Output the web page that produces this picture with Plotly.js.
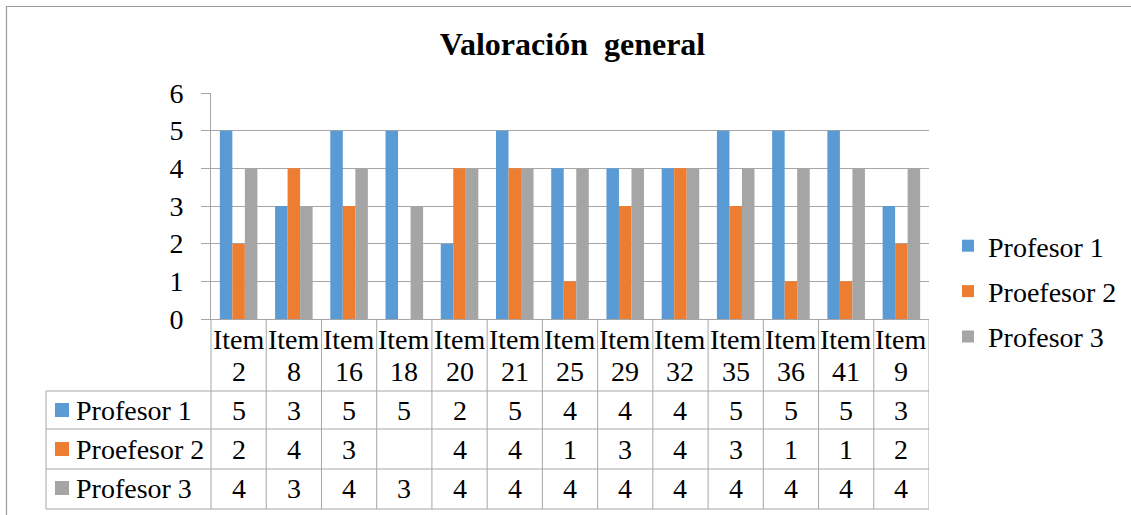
<!DOCTYPE html>
<html><head><meta charset="utf-8">
<script src="https://cdn.plot.ly/plotly-3.0.1.min.js"></script>
<style>html,body{margin:0;padding:0;background:#fff}#chart{width:1131px;height:515px}</style>
</head><body>
<div id="chart"></div>
<script>
const categories = ['Item 2','Item 8','Item 16','Item 18','Item 20','Item 21','Item 25','Item 29','Item 32','Item 35','Item 36','Item 41','Item 9'];
const itemNumbers = ['2','8','16','18','20','21','25','29','32','35','36','41','9'];
const seriesNames = ['Profesor 1','Proefesor 2','Profesor 3'];
const profesor1 = [5,3,5,5,2,5,4,4,4,5,5,5,3];
const proefesor2 = [2,4,3,null,4,4,1,3,4,3,1,1,2];
const profesor3 = [4,3,4,3,4,4,4,4,4,4,4,4,4];
const seriesValues = [profesor1, proefesor2, profesor3];
const colors = ['#5B9BD5','#ED7D31','#A5A5A5'];

const W = 1131, H = 515;
const L = 211, R = 929, T = 93, B = 319;
const px = x => (x - L) / (R - L);
const py = y => (B - y) / (B - T);
const FONT = 'Liberation Serif';
const lineCol = '#a6a6a6';

const traces = seriesNames.map((n, i) => ({
  type: 'bar', name: n, x: categories, y: seriesValues[i], legendgroup: 'g' + i,
  marker: {color: colors[i]}, hoverinfo: 'x+y+name'
}));

const shapes = [];
const annotations = [];
shapes.push({type:'rect', xref:'paper', yref:'paper', x0:px(6.5), x1:px(W+10), y0:py(H+10), y1:py(6.5), line:{color:'#9a9a9a', width:1.2}, layer:'below'});
shapes.push({type:'line', xref:'paper', yref:'paper', x0:0, x1:0, y0:py(509), y1:0, line:{color:lineCol, width:1}});
for (let k = 1; k <= categories.length; k++) {
  shapes.push({type:'line', xref:'x', yref:'paper', x0:k-0.5, x1:k-0.5, y0:py(509), y1:0, line:{color:lineCol, width:1}});
}
[391, 429, 469, 509].forEach(y => {
  shapes.push({type:'line', xref:'paper', yref:'paper', x0:px(46), x1:1, y0:py(y), y1:py(y), line:{color:lineCol, width:1}});
});
shapes.push({type:'line', xref:'paper', yref:'paper', x0:px(46), x1:px(46), y0:py(391), y1:py(509), line:{color:lineCol, width:1}});

categories.forEach((c, k) => {
  annotations.push({xref:'x', yref:'paper', x:k, y:py(339), text:'Item', showarrow:false, xanchor:'center', yanchor:'middle', font:{family:FONT, size:28, color:'#000'}});
  annotations.push({xref:'x', yref:'paper', x:k, y:py(371), text:itemNumbers[k], showarrow:false, xanchor:'center', yanchor:'middle', font:{family:FONT, size:28, color:'#000'}});
});
const rowY = [410, 449, 488];
seriesNames.forEach((n, i) => {
  shapes.push({type:'rect', xref:'paper', yref:'paper', x0:px(55), x1:px(69), y0:py(rowY[i]+7), y1:py(rowY[i]-7), fillcolor:colors[i], line:{width:0}});
  annotations.push({xref:'paper', yref:'paper', x:px(74), y:py(rowY[i]), text:n, showarrow:false, xanchor:'left', yanchor:'middle', font:{family:FONT, size:28, color:'#000'}});
  seriesValues[i].forEach((v, k) => {
    if (v === null) return;
    annotations.push({xref:'x', yref:'paper', x:k, y:py(rowY[i]), text:String(v), showarrow:false, xanchor:'center', yanchor:'middle', font:{family:FONT, size:28, color:'#000'}});
  });
});

const layout = {
  width: W, height: H,
  font: {family: FONT, size: 28, color: '#000'},
  margin: {l: L, r: W - R, t: T, b: H - B, pad: 0, autoexpand: false},
  paper_bgcolor: '#fff', plot_bgcolor: '#fff',
  title: {text: 'Valoración&nbsp; general', font: {family: FONT, size: 32, color: '#000', weight: 'bold'},
          xref: 'paper', x: px(572.5), xanchor: 'center', yref: 'container', y: 1 - 44/H, yanchor: 'middle'},
  barmode: 'group', bargap: 0.32, bargroupgap: 0,
  xaxis: {type: 'category', range: [-0.5, 12.5], showticklabels: false, ticks: '', showgrid: false,
          showline: true, linecolor: lineCol, linewidth: 1, zeroline: false, fixedrange: true},
  yaxis: {range: [0, 6], dtick: 1, tick0: 0, ticks: 'outside', ticklen: 9, tickcolor: lineCol, tickwidth: 1,
          gridcolor: lineCol, gridwidth: 1, showline: true, linecolor: lineCol, zeroline: false,
          ticklabelstandoff: 12, tickfont: {family: FONT, size: 28, color: '#000'}, fixedrange: true},
  legend: {x: px(948), xanchor: 'left', y: py(221), yanchor: 'top', font: {family: FONT, size: 28, color: '#000'},
           bgcolor: 'rgba(0,0,0,0)', itemclick: false, itemdoubleclick: false,
           traceorder: 'grouped', tracegroupgap: 6},
  shapes: shapes, annotations: annotations, showlegend: true
};
Plotly.newPlot('chart', traces, layout, {displayModeBar: false});
</script></body></html>
